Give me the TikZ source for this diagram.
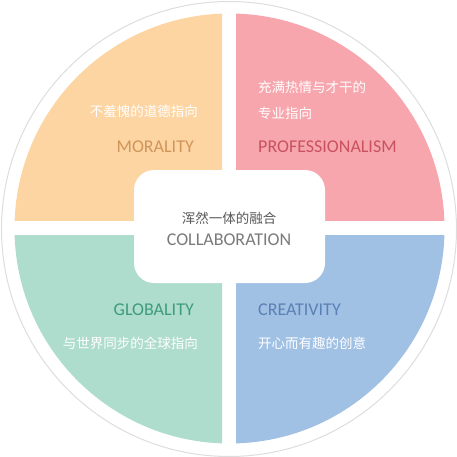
\documentclass[tikz,border=0pt]{standalone}
\usepackage{fontspec}
\setmainfont{Noto Sans CJK SC}
\newfontfamily\latinfont{Carlito}
\usepackage{tikz}
\usetikzlibrary{positioning}

\definecolor{morfill}{HTML}{FDD5A2}
\definecolor{profill}{HTML}{F6A6AC}
\definecolor{glofill}{HTML}{AEDCCD}
\definecolor{crefill}{HTML}{A0C0E4}
\definecolor{mortext}{HTML}{D1955A}
\definecolor{protext}{HTML}{C9525E}
\definecolor{glotext}{HTML}{3E9C7C}
\definecolor{cretext}{HTML}{5B80B5}
\definecolor{ringgray}{HTML}{DDDDDD}

\tikzset{
  cn/.style={inner sep=0pt, text=white, font=\fontsize{13.5}{16}\selectfont},
  en/.style={inner sep=0pt, font=\latinfont\fontsize{18}{20}\selectfont},
}

\begin{document}
\begin{tikzpicture}[x=1pt, y=-1pt]
  \useasboundingbox (0,0) rectangle (457,457);

  % 外圈
  \draw[ringgray, line width=1pt] (229,229) circle (227.5);

  % 四个象限
  \begin{scope}
    \clip (0,0) rectangle (222,220);
    \fill[morfill] (229.5,228.5) circle (215);
  \end{scope}
  \begin{scope}
    \clip (236,0) rectangle (457,220);
    \fill[profill] (229.5,228.5) circle (215);
  \end{scope}
  \begin{scope}
    \clip (0,235) rectangle (222,457);
    \fill[glofill] (229.5,228.5) circle (215);
  \end{scope}
  \begin{scope}
    \clip (236,235) rectangle (457,457);
    \fill[crefill] (229.5,228.5) circle (215);
  \end{scope}

  % 中间圆角框
  \fill[white, rounded corners=20pt] (134,170) rectangle (325,283);

  % 左上
  \node[cn, anchor=base east] (morcn) at (198,117) {不羞愧的道德指向};
  \node[en, text=mortext, anchor=base east] (moren) at (194,153) {MORALITY};

  % 右上
  \node[cn, anchor=base west] (procna) at (258,93) {充满热情与才干的};
  \node[cn, anchor=base west] (procnb) at (258,119) {专业指向};
  \node[en, text=protext, anchor=base west] (proen) at (258,153) {PROFESSIONALISM};

  % 左下
  \node[en, text=glotext, anchor=base east] (gloen) at (194,315) {GLOBALITY};
  \node[cn, anchor=base east] (glocn) at (198,348) {与世界同步的全球指向};

  % 右下
  \node[en, text=cretext, anchor=base west] (creen) at (258,315) {CREATIVITY};
  \node[cn, anchor=base west] (crecn) at (258,348) {开心而有趣的创意};

  % 中心
  \node[cn, text=black!65, anchor=base] (colcn) at (229,223) {浑然一体的融合};
  \node[en, text=black!52, anchor=base] (colen) at (229,245) {COLLABORATION};
\end{tikzpicture}
\end{document}
